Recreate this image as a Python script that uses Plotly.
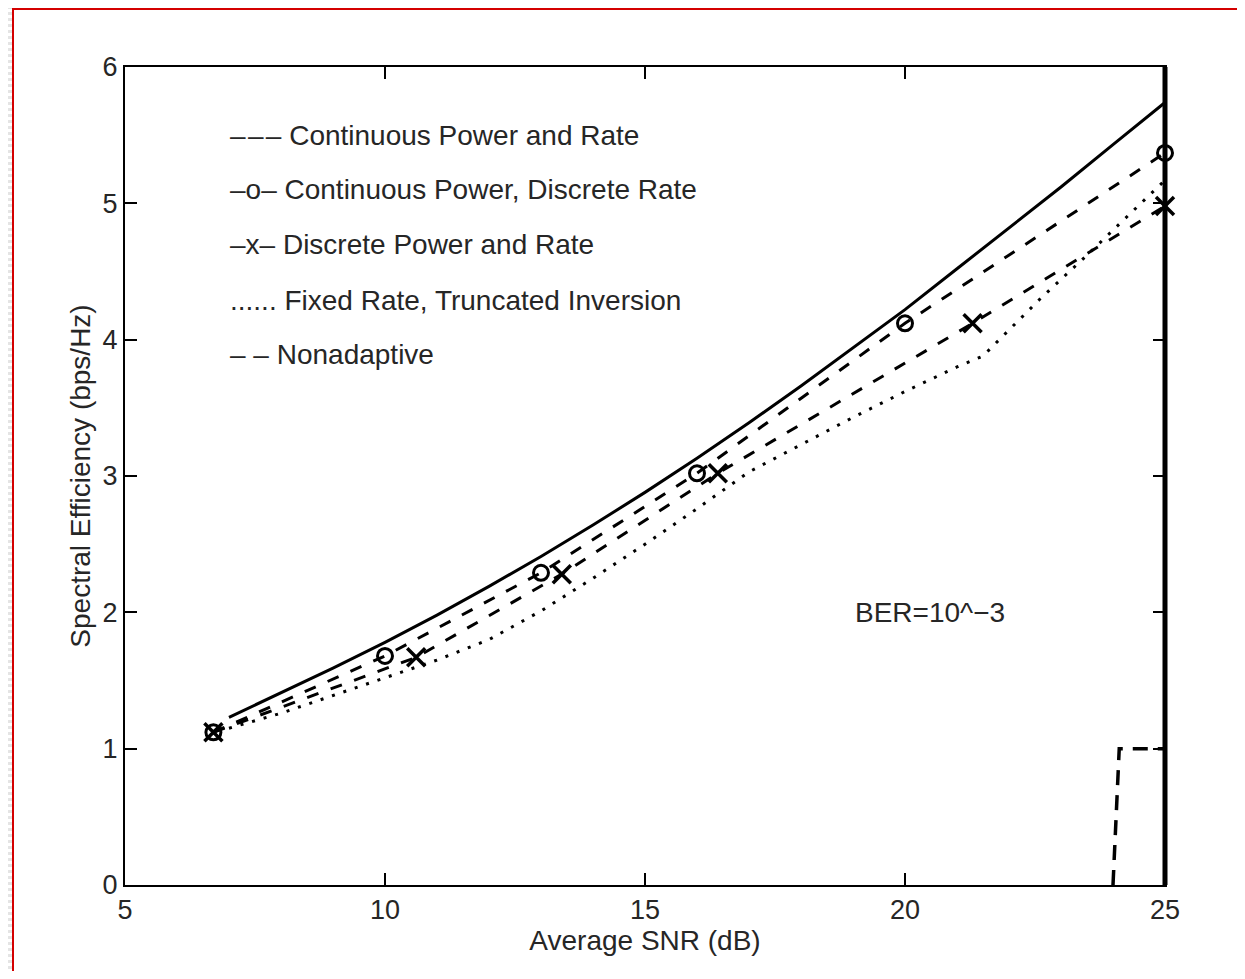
import plotly.graph_objects as go

# ---------------- data ----------------
snr_cpr = [7, 8, 9, 10, 11, 12, 13, 14, 15, 16, 17, 18, 19, 20, 21, 22, 23, 24, 25]
se_cpr = [1.23, 1.41, 1.59, 1.78, 1.98, 2.19, 2.41, 2.64, 2.88, 3.13, 3.39, 3.66,
          3.94, 4.22, 4.52, 4.82, 5.12, 5.43, 5.74]

snr_cpdr = [6.7, 10, 13, 16, 20, 25]
se_cpdr = [1.12, 1.68, 2.29, 3.02, 4.12, 5.37]

snr_dpr = [6.7, 10.6, 13.4, 16.4, 21.3, 25]
se_dpr = [1.12, 1.67, 2.28, 3.02, 4.12, 4.98]

snr_fr = [7, 8, 9, 10, 11, 12, 13, 14, 15, 16, 17, 18, 19, 20, 21, 21.5, 22, 22.6,
          23.5, 24.5, 25]
se_fr = [1.15, 1.26, 1.39, 1.52, 1.65, 1.80, 2.01, 2.25, 2.50, 2.76, 3.03, 3.23,
         3.43, 3.62, 3.80, 3.88, 4.07, 4.30, 4.62, 4.99, 5.17]

snr_na = [24.0, 24.12, 25.0]
se_na = [0, 1, 1]

x_ticks = [5, 10, 15, 20, 25]
y_ticks = [0, 1, 2, 3, 4, 5, 6]

legend_lines = [
    "–\u200a–\u200a– Continuous Power and Rate",
    "–o– Continuous Power, Discrete Rate",
    "–x– Discrete Power and Rate",
    "...... Fixed Rate, Truncated Inversion",
    "– – Nonadaptive",
]
legend_y = [5.50, 5.10, 4.70, 4.29, 3.89]
ber_text = "BER=10^−3"

FONT = "Liberation Sans, Arial, sans-serif"
TXT = "#262626"

# page is shown with an 8px body margin; plot area lands at screen x 125..1165, y 67..885
W, H = 1237, 963
ML, MR, MT, MB = 117, 80, 59, 86
PW, PH = W - ML - MR, H - MT - MB


def sx(px):  # screen x pixel -> paper
    return (px - 8 - ML) / PW


def sy(py):  # screen y pixel -> paper
    return 1 - (py - 8 - MT) / PH


fig = go.Figure()

fig.add_trace(go.Scatter(x=snr_cpr, y=se_cpr, mode="lines",
                         line=dict(color="black", width=3),
                         cliponaxis=False, showlegend=False))
fig.add_trace(go.Scatter(x=snr_cpdr, y=se_cpdr, mode="lines+markers",
                         line=dict(color="black", width=3, dash="12px,13px"),
                         marker=dict(symbol="circle-open", size=15, color="black",
                                     line=dict(width=3, color="black")),
                         cliponaxis=False, showlegend=False))
fig.add_trace(go.Scatter(x=snr_dpr, y=se_dpr, mode="lines+markers",
                         line=dict(color="black", width=3, dash="12px,13px"),
                         marker=dict(symbol="x-thin-open", size=18, color="black",
                                     line=dict(width=3.5, color="black")),
                         cliponaxis=False, showlegend=False))
fig.add_trace(go.Scatter(x=snr_fr, y=se_fr, mode="lines",
                         line=dict(color="black", width=3, dash="3px,9px"),
                         cliponaxis=False, showlegend=False))
fig.add_trace(go.Scatter(x=snr_na, y=se_na, mode="lines",
                         line=dict(color="black", width=3.5, dash="15px,10px"),
                         cliponaxis=False, showlegend=False))

annotations = []
for t, yv in zip(legend_lines, legend_y):
    annotations.append(dict(x=6.98, y=yv, xref="x", yref="y", text=t,
                            showarrow=False, xanchor="left", yanchor="middle",
                            font=dict(family=FONT, size=28, color=TXT)))
annotations.append(dict(x=19.0, y=2.0, xref="x", yref="y", text=ber_text,
                        showarrow=False, xanchor="left", yanchor="middle",
                        font=dict(family=FONT, size=28, color=TXT)))

shapes = []
# striped page background outside the red frame
for yy in range(0, 985, 6):
    shapes.append(dict(type="rect", xref="paper", yref="paper",
                       x0=sx(0), x1=sx(12), y0=sy(yy + 3), y1=sy(yy),
                       fillcolor="#e4e4e4", line=dict(width=0), layer="below"))
    shapes.append(dict(type="rect", xref="paper", yref="paper",
                       x0=sx(1242), x1=sx(1250), y0=sy(yy + 3), y1=sy(yy),
                       fillcolor="#e4e4e4", line=dict(width=0), layer="below"))
# red frame
red = dict(color="#d40000", width=2)
shapes.append(dict(type="line", xref="paper", yref="paper",
                   x0=sx(13), x1=sx(13), y0=sy(990), y1=sy(4), line=red))
shapes.append(dict(type="line", xref="paper", yref="paper",
                   x0=sx(1240), x1=sx(1240), y0=sy(990), y1=sy(4), line=red))
shapes.append(dict(type="line", xref="paper", yref="paper",
                   x0=sx(13), x1=sx(1240), y0=sy(9), y1=sy(9), line=red))
# thick right axis edge
shapes.append(dict(type="line", xref="paper", yref="paper",
                   x0=1, x1=1, y0=0, y1=1,
                   line=dict(color="black", width=5)))

fig.update_layout(
    width=W, height=H,
    margin=dict(l=ML, r=MR, t=MT, b=MB),
    paper_bgcolor="white", plot_bgcolor="white",
    font=dict(family=FONT, size=27, color=TXT),
    annotations=annotations, shapes=shapes,
    showlegend=False,
)
fig.update_xaxes(range=[5, 25], tickvals=x_ticks, ticks="inside", ticklen=12,
                 tickwidth=2, tickcolor="black", showline=True, linewidth=2,
                 linecolor="black", mirror="ticks", showgrid=False, zeroline=False,
                 tickfont=dict(family=FONT, size=27, color=TXT),
                 title=dict(text="Average SNR (dB)", standoff=4,
                            font=dict(family=FONT, size=28, color=TXT)))
fig.update_yaxes(range=[0, 6], tickvals=y_ticks, ticks="inside", ticklen=12,
                 tickwidth=2, tickcolor="black", showline=True, linewidth=2,
                 linecolor="black", mirror="ticks", showgrid=False, zeroline=False,
                 tickfont=dict(family=FONT, size=27, color=TXT),
                 title=dict(text="Spectral Efficiency (bps/Hz)", standoff=4,
                            font=dict(family=FONT, size=28, color=TXT)))

fig.write_html("out.html")
